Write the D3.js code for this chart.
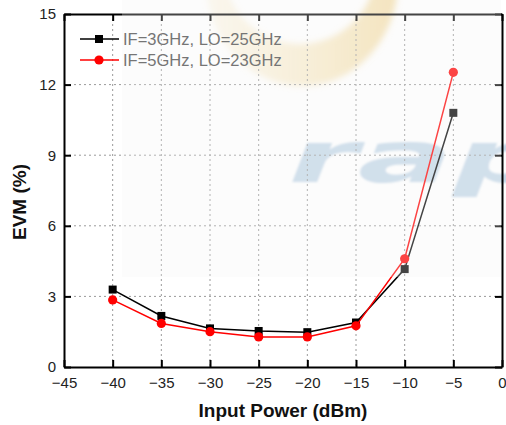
<!DOCTYPE html>
<html>
<head>
<meta charset="utf-8">
<script src="https://cdn.jsdelivr.net/npm/d3@7"></script>
<style>
  html, body { margin: 0; padding: 0; background: #fff; }
  svg { display: block; }
</style>
</head>
<body>
<svg id="chart" width="506" height="425"></svg>
<script>
// ---- data ----
const inputPower = [-40, -35, -30, -25, -20, -15, -10, -5];
const evmIF3 = [3.29, 2.17, 1.64, 1.53, 1.48, 1.89, 4.16, 10.8];
const evmIF5 = [2.85, 1.85, 1.50, 1.28, 1.28, 1.75, 4.60, 12.52];
const seriesNames = ["IF=3GHz, LO=25GHz", "IF=5GHz, LO=23GHz"];
const xTicks = [-45, -40, -35, -30, -25, -20, -15, -10, -5, 0];
const yTicks = [0, 3, 6, 9, 12, 15];
const xTitle = "Input Power (dBm)";
const yTitle = "EVM (%)";
const watermarkText = "rap";

// ---- layout ----
const W = 506, H = 425;
const m = { left: 64, right: 4, top: 14, bottom: 58 };
const svg = d3.select("#chart");
const x = d3.scaleLinear().domain([-45, 0]).range([m.left, W - m.right]);
const y = d3.scaleLinear().domain([0, 15]).range([H - m.bottom, m.top]);
const font = "'Liberation Sans', Arial, sans-serif";

const defs = svg.append("defs");
const blur = defs.append("filter").attr("id", "soft").attr("x", "-20%").attr("y", "-20%").attr("width", "140%").attr("height", "140%");
blur.append("feGaussianBlur").attr("stdDeviation", 3);
const blur2 = defs.append("filter").attr("id", "soft2").attr("x", "-10%").attr("y", "-20%").attr("width", "120%").attr("height", "140%");
blur2.append("feGaussianBlur").attr("stdDeviation", 1.2);
const grad = defs.append("linearGradient").attr("id", "ygrad").attr("x1", "0").attr("x2", "1").attr("y1", "0").attr("y2", "0");
grad.append("stop").attr("offset", "0%").attr("stop-color", "#f3dba0").attr("stop-opacity", 0.2);
grad.append("stop").attr("offset", "50%").attr("stop-color", "#f3dba0").attr("stop-opacity", 0.5);
grad.append("stop").attr("offset", "100%").attr("stop-color", "#f0d38e").attr("stop-opacity", 0.75);

svg.append("rect").attr("width", W).attr("height", H).attr("fill", "#fff");

// ---- watermark (under grid) ----
const wm = svg.append("g");
const ox = 302, oy = -20, orx = 96, ory = 106;
const ix = 300, iy = -32, irx = 76, iry = 76;
function ellipsePts(cx, cy, rx, ry, a0, a1, n) {
  const pts = [];
  for (let i = 0; i <= n; i++) {
    const a = a0 + (a1 - a0) * i / n;
    pts.push([cx + rx * Math.cos(a), cy + ry * Math.sin(a)]);
  }
  return pts;
}
const outerPts = ellipsePts(ox, oy, orx, ory, Math.PI * 0.98, Math.PI * 0.02, 60)
  .concat([[ox + orx, -40], [ix + irx, -40]]);
const innerPts = ellipsePts(ix, iy, irx, iry, Math.PI * 0.02, Math.PI * 0.98, 60)
  .concat([[ix - irx, -40], [ox - orx, -40]]);
wm.append("path")
  .attr("d", d3.line()(outerPts.concat(innerPts)) + "Z")
  .attr("fill", "url(#ygrad)")
  .attr("filter", "url(#soft)");
wm.append("text")
  .attr("x", 288).attr("y", 182)
  .attr("font-family", "'DejaVu Sans', sans-serif")
  .attr("font-weight", "bold")
  .attr("font-style", "italic")
  .attr("font-size", 72)
  .attr("textLength", 266)
  .attr("lengthAdjust", "spacingAndGlyphs")
  .attr("fill", "#c4d8e8")
  .attr("filter", "url(#soft2)")
  .text(watermarkText);

// ---- grid ----
const grid = svg.append("g").attr("stroke", "#9a9a9a").attr("stroke-width", 1).attr("stroke-dasharray", "2,3");
grid.selectAll("line.v").data(xTicks.filter(d => d > -45 && d < 0)).join("line")
  .attr("x1", d => x(d)).attr("x2", d => x(d))
  .attr("y1", y(15)).attr("y2", y(0));
grid.selectAll("line.h").data(yTicks.filter(d => d > 0 && d < 15)).join("line")
  .attr("y1", d => y(d)).attr("y2", d => y(d))
  .attr("x1", x(-45)).attr("x2", x(0));

// ---- series ----
const line = d3.line().x(d => x(d[0])).y(d => y(d[1]));
const d1 = inputPower.map((p, i) => [p, evmIF3[i]]);
const d2 = inputPower.map((p, i) => [p, evmIF5[i]]);
svg.append("path").datum(d1).attr("d", line).attr("fill", "none").attr("stroke", "#000").attr("stroke-width", 1.5);
svg.selectAll("rect.m1").data(d1).join("rect")
  .attr("x", d => x(d[0]) - 4).attr("y", d => y(d[1]) - 4)
  .attr("width", 8).attr("height", 8).attr("fill", "#000");
svg.append("path").datum(d2).attr("d", line).attr("fill", "none").attr("stroke", "#ff0000").attr("stroke-width", 1.5);
svg.selectAll("circle.m2").data(d2).join("circle")
  .attr("cx", d => x(d[0])).attr("cy", d => y(d[1]))
  .attr("r", 4.6).attr("fill", "#ff0000");

// ---- axes ----
function styleAxis(g) {
  g.selectAll(".domain").attr("stroke", "#000").attr("stroke-width", 2);
  g.selectAll(".tick line").attr("stroke", "#000").attr("stroke-width", 2);
  g.selectAll("text").attr("font-family", font).attr("font-size", 15).attr("fill", "#222");
}
svg.append("g").attr("transform", `translate(0,${y(0)})`)
  .call(d3.axisBottom(x).tickValues(xTicks).tickSizeInner(-7).tickSizeOuter(0).tickPadding(10).tickFormat(d3.format("d")))
  .call(styleAxis);
svg.append("g").attr("transform", `translate(0,${y(15)})`)
  .call(d3.axisTop(x).tickValues(xTicks).tickSizeInner(-7).tickSizeOuter(0).tickFormat(""))
  .call(styleAxis);
svg.append("g").attr("transform", `translate(${x(-45)},0)`)
  .call(d3.axisLeft(y).tickValues(yTicks).tickSizeInner(-7).tickSizeOuter(0).tickPadding(8).tickFormat(d3.format("d")))
  .call(styleAxis);
svg.append("g").attr("transform", `translate(${x(0)},0)`)
  .call(d3.axisRight(y).tickValues(yTicks).tickSizeInner(-7).tickSizeOuter(0).tickFormat(""))
  .call(styleAxis);

// ---- legend ----
const legend = svg.append("g");
const rows = [
  { name: seriesNames[0], color: "#000", shape: "square", y: 39 },
  { name: seriesNames[1], color: "#ff0000", shape: "circle", y: 60 }
];
rows.forEach(r => {
  legend.append("line").attr("x1", 80).attr("x2", 119).attr("y1", r.y).attr("y2", r.y)
    .attr("stroke", r.color).attr("stroke-width", 1.5);
  if (r.shape === "square") {
    legend.append("rect").attr("x", 95).attr("y", r.y - 4).attr("width", 8).attr("height", 8).attr("fill", r.color);
  } else {
    legend.append("circle").attr("cx", 99).attr("cy", r.y).attr("r", 4.6).attr("fill", r.color);
  }
  legend.append("text").attr("x", 123).attr("y", r.y + 6)
    .attr("font-family", font).attr("font-size", 16.5).attr("fill", "#444")
    .text(r.name);
});

// ---- titles ----
svg.append("text").attr("x", 283).attr("y", 417).attr("text-anchor", "middle")
  .attr("font-family", font).attr("font-weight", "bold").attr("font-size", 19).attr("fill", "#111")
  .text(xTitle);
svg.append("text").attr("transform", "translate(25.5,202) rotate(-90)").attr("text-anchor", "middle")
  .attr("font-family", font).attr("font-weight", "bold").attr("font-size", 19).attr("fill", "#111")
  .text(yTitle);

// ---- translucent overlay of the watermark image ----
svg.append("rect").attr("x", 122).attr("y", 0).attr("width", 379).attr("height", 277)
  .attr("fill", "#f4f4f4").attr("opacity", 0.28);
</script>
</body>
</html>
